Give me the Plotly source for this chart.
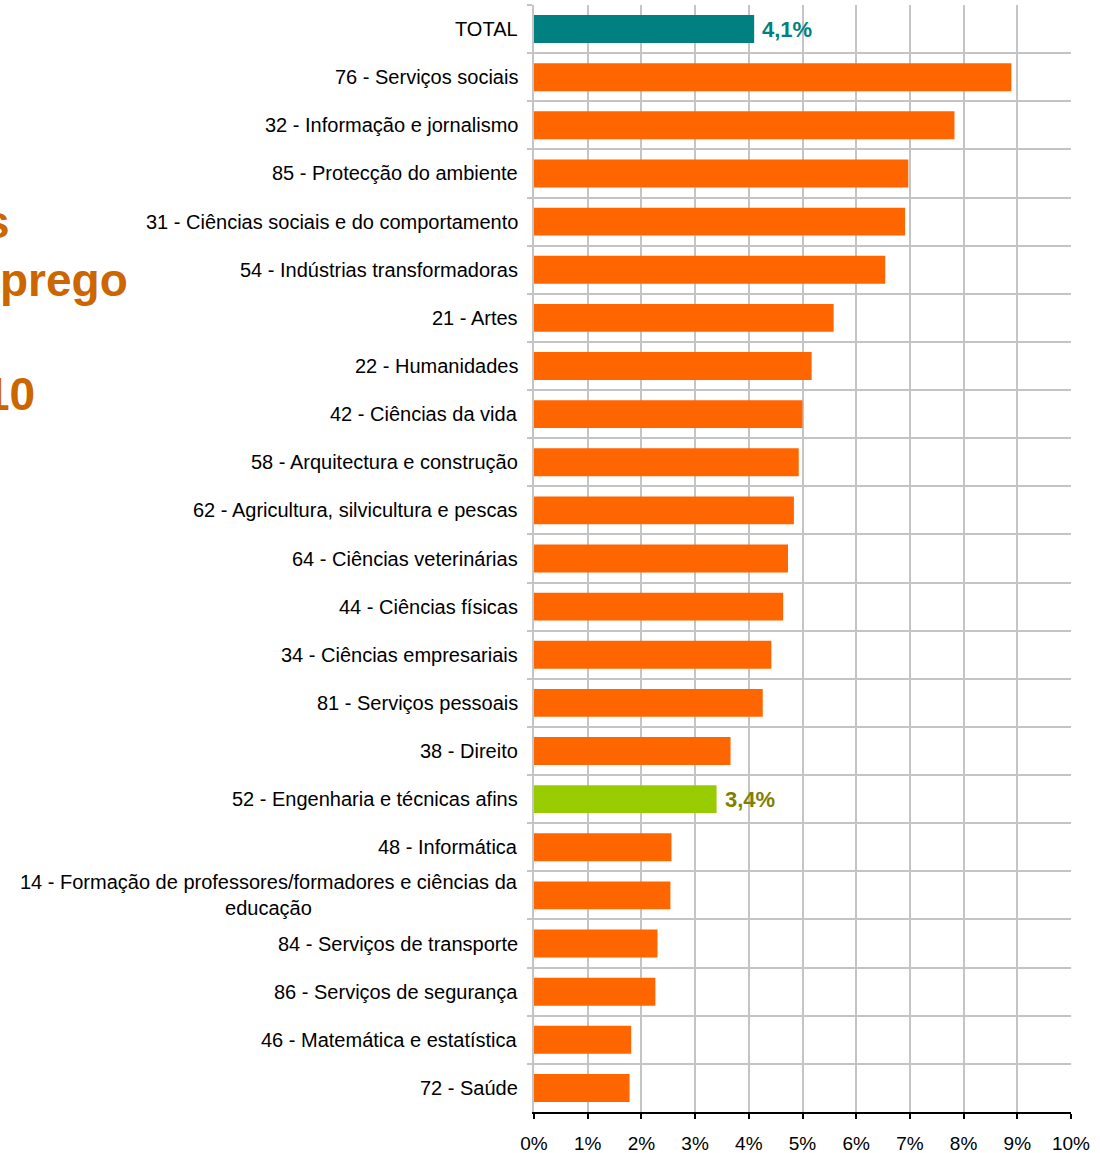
import plotly.graph_objects as go

categories = [
    "TOTAL",
    "76 - Serviços sociais",
    "32 - Informação e jornalismo",
    "85 - Protecção do ambiente",
    "31 - Ciências sociais e do comportamento",
    "54 - Indústrias transformadoras",
    "21 - Artes",
    "22 - Humanidades",
    "42 - Ciências da vida",
    "58 - Arquitectura e construção",
    "62 - Agricultura, silvicultura e pescas",
    "64 - Ciências veterinárias",
    "44 - Ciências físicas",
    "34 - Ciências empresariais",
    "81 - Serviços pessoais",
    "38 - Direito",
    "52 - Engenharia e técnicas afins",
    "48 - Informática",
    "14 - Formação de professores/formadores e ciências da<br>educação",
    "84 - Serviços de transporte",
    "86 - Serviços de segurança",
    "46 - Matemática e estatística",
    "72 - Saúde",
]
values = [4.1, 8.89, 7.83, 6.97, 6.91, 6.54, 5.58, 5.17, 5.0, 4.93, 4.84, 4.73,
          4.64, 4.42, 4.26, 3.66, 3.4, 2.56, 2.54, 2.30, 2.26, 1.81, 1.78]
highlight = {"TOTAL": "#008080", "52 - Engenharia e técnicas afins": "#99CC00"}
label_colors = {"TOTAL": "#008080", "52 - Engenharia e técnicas afins": "#808000"}
x_ticks = list(range(0, 11))
title_fragments = ["s", "prego", "10"]

FONT = "Liberation Sans, Arial, sans-serif"
colors = [highlight.get(c, "#FF6600") for c in categories]

fig = go.Figure()
fig.add_trace(go.Bar(
    x=values, y=categories, orientation="h", base=0,
    marker=dict(color=colors, line=dict(width=0)),
    width=0.58, hoverinfo="x+y",
))

annotations = []
for c in categories:
    annotations.append(dict(
        x=0, xref="paper", y=c, yref="y", text=c, showarrow=False,
        xanchor="right", yanchor="middle", align="center", xshift=-14,
        font=dict(family=FONT, size=20, color="#000000"),
    ))
for c, v in zip(categories, values):
    if c in label_colors:
        annotations.append(dict(
            x=v, xref="x", y=c, yref="y",
            text="<b>" + f"{v:.1f}".replace(".", ",") + "%</b>", showarrow=False,
            xanchor="left", yanchor="middle", xshift=6,
            font=dict(family=FONT, size=22, color=label_colors[c]),
        ))
# partially visible title on the far left
title_pos = [(12, 222), (130, 280), (37, 394)]
for txt, (px, py) in zip(title_fragments, title_pos):
    annotations.append(dict(
        x=px, y=1153 - py, xref="paper", yref="paper", text=f"<b>{txt}</b>",
        showarrow=False, xanchor="right", yanchor="middle",
        font=dict(family=FONT, size=46, color="#CC6600"),
    ))

# convert title pixel positions into paper coordinates
L, R, T, B = 534, 29, 5, 41
W, H = 1100, 1153
pw, ph = W - L - R, H - T - B
for a in annotations[-3:]:
    a["x"] = (a["x"] - L) / pw
    a["y"] = (a["y"] - B) / ph

fig.update_layout(
    width=W, height=H,
    margin=dict(l=L, r=R, t=T, b=B, pad=0, autoexpand=False),
    plot_bgcolor="#FFFFFF", paper_bgcolor="#FFFFFF",
    showlegend=False,
    annotations=annotations,
    font=dict(family=FONT, size=19, color="#000000"),
    xaxis=dict(
        range=[0, 10], tickvals=x_ticks, ticktext=[f"{t}%" for t in x_ticks],
        showgrid=True, gridcolor="#C4C4C4", gridwidth=1.5,
        zeroline=False, showline=True, linecolor="#000000", linewidth=1.5,
        ticks="outside", ticklen=5, tickcolor="#000000", tickwidth=1.5,
        tickfont=dict(family=FONT, size=19, color="#000000"),
        ticklabelstandoff=8, automargin=False,
    ),
    yaxis=dict(
        type="category", categoryorder="array", categoryarray=categories,
        autorange="reversed", showticklabels=False,
        tickson="boundaries", ticks="outside", ticklen=5,
        tickcolor="#C4C4C4", tickwidth=1.5,
        showgrid=True, gridcolor="#C4C4C4", gridwidth=1.5,
        showline=True, linecolor="#C4C4C4", linewidth=1.5,
        zeroline=False, automargin=False,
    ),
)

fig.write_html("out.html", config={"displayModeBar": False},
               post_script="document.body.style.margin='0';")
